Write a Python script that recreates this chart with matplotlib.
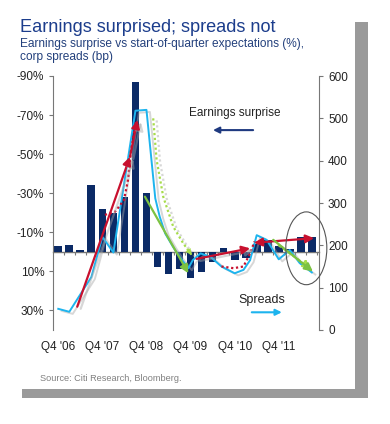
import numpy as np
import matplotlib
matplotlib.use("Agg")
import matplotlib.pyplot as plt
from matplotlib.patches import Rectangle, Ellipse
import matplotlib.patheffects as pe

plt.rcParams['font.family'] = ['Liberation Sans', 'DejaVu Sans']

# quarters Q4 '06 .. Q3 '12
quarters = np.arange(24)
tick_pos = [0, 4, 8, 12, 16, 20]
tick_labels = ["Q4 '06", "Q4 '07", "Q4 '08", "Q4 '09", "Q4 '10", "Q4 '11"]

# earnings surprise (%), as read on the inverted left axis
surprise = [-3, -3.5, -1, -34, -22, -20, -28, -87, -30, 8, 11.5, 8.6,
            13.5, 10.3, 5.2, -1.8, 4.2, 3.3, -3.8, -5.9, -3, -1.5, -7.7, -7.4]

# corp spreads (bp), position in quarters
spread_q = [0, 1, 3, 4, 5, 7, 8, 8.8, 9.2, 9.7, 10.4, 11, 11.8, 12.2, 12.9,
            13.8, 14.8, 16, 16.8, 17.4, 18, 18.9, 20, 21, 21.9, 23]
spread_bp = [50, 43, 125, 220, 183, 518, 520, 311, 268, 228, 197, 173, 146,
             165, 181, 173, 150, 134, 142, 165, 224, 213, 167, 189, 158, 136]

# hand-drawn trend annotations (quarter, bp)
red_arrows = [((1.72, 55), (6.5, 409)), ((6.5, 409), (7.18, 496)),
              ((12.55, 168), (17.4, 193))]
red_double = ((17.75, 206), (23.2, 217))
green_arrows = [((7.86, 315), (11.8, 134)), ((19.5, 213), (23.1, 138))]
red_dot1_q = [4.23, 5.14, 5.96, 6.32, 6.6, 7.05]
red_dot1_bp = [272, 279, 307, 354, 425, 491]
red_dot2_q = [14.8, 15.9, 16.8, 17.4, 17.8]
red_dot2_bp = [150, 146, 150, 181, 209]
green_dot_q = [8.61, 8.92, 9.52, 10.43, 11.33, 12.1]
green_dot_bp = [500, 402, 315, 244, 205, 177]
green_dot2 = ((20.0, 200), (22.9, 145))

navy = '#0b2a66'
cyan = '#1db4ee'
red = '#c8102e'
green = '#7cc242'
lgreen = '#a6dc4a'
shadow = [pe.SimpleLineShadow(offset=(2.5, -1.5), shadow_color='#a8a8a8', alpha=0.45),
          pe.Normal()]

fig = plt.figure(figsize=(3.9, 4.24), dpi=100)
W, H = 390, 424

# drop shadow + panel
fig.patches.append(Rectangle((22 / W, (H - 398) / H), 346 / W, 376 / H,
                             transform=fig.transFigure, facecolor='#9a9a9a',
                             edgecolor='none', zorder=0))
fig.patches.append(Rectangle((15 / W, (H - 389) / H), 340 / W, 375 / H,
                             transform=fig.transFigure, facecolor='white',
                             edgecolor='none', zorder=0))

# dotted background
bg = fig.add_axes([15 / W, (H - 389) / H, 340 / W, 375 / H], zorder=0)
bg.set_xlim(0, 340)
bg.set_ylim(0, 375)
bg.set_xticks([])
bg.set_yticks(np.arange(2, 375, 13))
bg.tick_params(length=0, labelleft=False)
bg.grid(axis='y', color='#b8b8b8', lw=0.8, linestyle=(0, (1, 6)))
for s in bg.spines.values():
    s.set_visible(False)
bg.patch.set_visible(False)

ax = fig.add_axes([53.3 / W, (H - 330) / H, 265.7 / W, 254 / H], zorder=1)
ax.patch.set_visible(False)
ax.bar(quarters, surprise, width=0.7, color=navy, zorder=2)
ax.set_xlim(-0.45, 23.65)
ax.set_ylim(40, -90)
lt = [-90, -70, -50, -30, -10, 10, 30]
ax.set_yticks(lt)
ax.set_yticklabels([f'{v}%' for v in lt])
ax.set_xticks(tick_pos)
ax.set_xticklabels(tick_labels)
ax.tick_params(axis='x', length=0, pad=8, labelsize=8.5, labelcolor='#222')
ax.tick_params(axis='y', length=3, color='#777', labelsize=8.5, labelcolor='#222')
for s in ['top', 'right', 'bottom']:
    ax.spines[s].set_visible(False)
ax.spines['left'].set_color('#777')

zx = ax.secondary_xaxis(40 / 130)
zx.set_xticks(np.arange(-0.5, 24, 1))
zx.set_xticklabels([])
zx.tick_params(length=2.5, direction='out', color='#777')
zx.spines['bottom'].set_color('#777')
zx.spines['bottom'].set_linewidth(1.0)

ax2 = ax.twinx()
ax2.set_ylim(0, 600)
ax2.set_yticks(range(0, 601, 100))
ax2.tick_params(axis='y', length=3, color='#777', labelsize=8.5, labelcolor='#222')
for s in ['top', 'left', 'bottom']:
    ax2.spines[s].set_visible(False)
ax2.spines['right'].set_color('#777')

ax2.plot(spread_q, spread_bp, color=cyan, lw=1.4, zorder=3, path_effects=shadow)

ax2.plot(red_dot1_q, red_dot1_bp, color=red, lw=1.6, linestyle=(0, (1, 1.2)), zorder=4)
ax2.plot(red_dot2_q, red_dot2_bp, color=red, lw=1.6, linestyle=(0, (1, 1.2)), zorder=4)
ax2.plot(green_dot_q, green_dot_bp, color=lgreen, lw=1.6, linestyle=(0, (1, 1.2)),
         zorder=4, path_effects=shadow)
ax2.annotate('', xy=(green_dot_q[-1], green_dot_bp[-1]),
             xytext=(green_dot_q[-2], green_dot_bp[-2]),
             arrowprops=dict(arrowstyle='-|>', color=lgreen, lw=0.1,
                             mutation_scale=11, shrinkA=0, shrinkB=0), zorder=4)
ax2.annotate('', xy=green_dot2[1], xytext=green_dot2[0],
             arrowprops=dict(arrowstyle='-|>', color=lgreen, lw=1.6, ls=':',
                             mutation_scale=11, shrinkA=0, shrinkB=0), zorder=4)

for a, b in red_arrows:
    ax2.annotate('', xy=b, xytext=a,
                 arrowprops=dict(arrowstyle='-|>', color=red, lw=1.6,
                                 mutation_scale=12, shrinkA=0, shrinkB=0,
                                 path_effects=shadow), zorder=5)
ax2.annotate('', xy=red_double[1], xytext=red_double[0],
             arrowprops=dict(arrowstyle='<|-|>', color=red, lw=1.6,
                             mutation_scale=12, shrinkA=0, shrinkB=0), zorder=5)
for a, b in green_arrows:
    ax2.annotate('', xy=b, xytext=a,
                 arrowprops=dict(arrowstyle='-|>', color=green, lw=1.6,
                                 mutation_scale=12, shrinkA=0, shrinkB=0), zorder=5)

ax2.add_patch(Ellipse((22.5, 193), 3.72, 172, fill=False, edgecolor='#555',
                      lw=0.8, clip_on=False, zorder=5))

# legend-like labels
ax2.text(0.684, 0.854, 'Earnings surprise', transform=ax2.transAxes,
         ha='center', va='center', fontsize=8.5, color='#222')
ax2.annotate('', xy=(0.601, 0.787), xytext=(0.752, 0.787), xycoords='axes fraction',
             arrowprops=dict(arrowstyle='-|>', color='#1f3a80', lw=1.5,
                             mutation_scale=9, shrinkA=0, shrinkB=0))
ax2.text(0.786, 0.118, 'Spreads', transform=ax2.transAxes,
         ha='center', va='center', fontsize=9, color='#222')
ax2.annotate('', xy=(0.860, 0.0697), xytext=(0.747, 0.0697), xycoords='axes fraction',
             arrowprops=dict(arrowstyle='-|>', color=cyan, lw=1.5,
                             mutation_scale=9, shrinkA=0, shrinkB=0))

fig.text(20 / W, (H - 32) / H, 'Earnings surprised; spreads not', fontsize=13.1,
         color='#1c3d8c', va='baseline')
fig.text(20 / W, (H - 47) / H, 'Earnings surprise vs start-of-quarter expectations (%),',
         fontsize=8.6, color='#23407c', va='baseline')
fig.text(20 / W, (H - 60) / H, 'corp spreads (bp)', fontsize=8.6, color='#23407c',
         va='baseline')
fig.text(40 / W, (H - 381) / H, 'Source: Citi Research, Bloomberg.', fontsize=6.6,
         color='#808080', va='baseline')

fig.savefig('out.png', dpi=100)
